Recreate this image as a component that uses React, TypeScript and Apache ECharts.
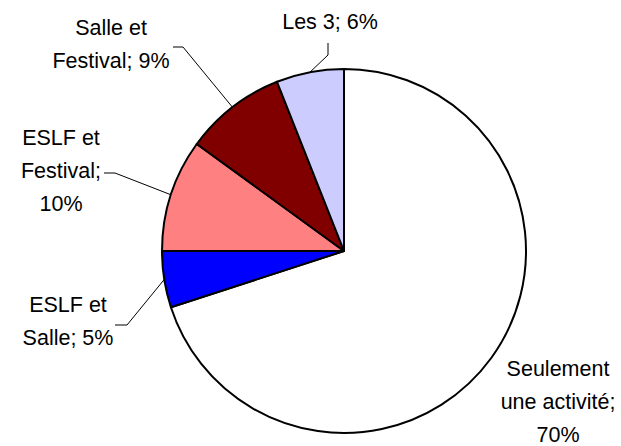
import React, { useEffect, useRef } from "react";
import * as echarts from "echarts";

const categories = ["Seulement une activité", "ESLF et Salle", "ESLF et Festival", "Salle et Festival", "Les 3"];
const values = [70, 5, 10, 9, 6];
const labelTexts = ["Seulement\nune activité;\n70%", "ESLF et\nSalle; 5%", "ESLF et\nFestival;\n10%", "Salle et\nFestival; 9%", "Les 3; 6%"];
const colors = ["#FFFFFF", "#0000FF", "#FF8080", "#800000", "#CCCCFF"];

// label placement (centre of text block) and leader line bend/end points
const labelPos: [number, number][] = [[558, 402], [68, 321], [61, 171], [111, 44], [330, 22]];
const linePts: ([number, number][] | null)[] = [
  null,
  [[127, 325], [115, 325]],
  [[115, 173], [104, 173]],
  [[183, 47], [173, 47]],
  [[328, 55], [328, 43]],
];

const CX = 344, CY = 251, R = 182;

export default function App() {
  const ref = useRef<HTMLDivElement>(null);
  useEffect(() => {
    if (!ref.current) return;
    const chart = echarts.init(ref.current, undefined, { renderer: "svg" });
    const total = values.reduce((a, b) => a + b, 0);
    chart.setOption({
      animation: false,
      backgroundColor: "#FFFFFF",
      series: [
        {
          type: "pie",
          center: [CX, CY],
          radius: [0, R],
          startAngle: 90,
          clockwise: true,
          avoidLabelOverlap: false,
          itemStyle: { borderColor: "#000000", borderWidth: 2 },
          label: {
            show: true,
            position: "outside",
            color: "#000000",
            fontFamily: "Liberation Sans, Arial, sans-serif",
            fontSize: 21.5,
            lineHeight: 33,
            align: "center",
            formatter: (p: any) => labelTexts[p.dataIndex],
          },
          labelLine: { show: true, length: 20, length2: 10, lineStyle: { color: "#000000", width: 1 } },
          labelLayout: (params: any) => {
            const i = params.dataIndex;
            const out: any = { x: labelPos[i][0], y: labelPos[i][1], align: "center", verticalAlign: "middle" };
            const pts = linePts[i];
            if (pts) {
              let start = params.labelLinePoints && params.labelLinePoints[0];
              if (!start) {
                let before = 0;
                for (let k = 0; k < i; k++) before += values[k];
                const mid = (90 - ((before + values[i] / 2) / total) * 360) * Math.PI / 180;
                start = [CX + R * Math.cos(mid), CY - R * Math.sin(mid)];
              }
              out.labelLinePoints = [start, pts[0], pts[1]];
            }
            return out;
          },
          data: categories.map((name, i) => ({
            name,
            value: values[i],
            itemStyle: { color: colors[i] },
            labelLine: { show: linePts[i] !== null },
          })),
        },
      ],
    });
    return () => chart.dispose();
  }, []);
  return <div ref={ref} style={{ position: "fixed", left: 0, top: 0, width: 621, height: 446 }} />;
}
